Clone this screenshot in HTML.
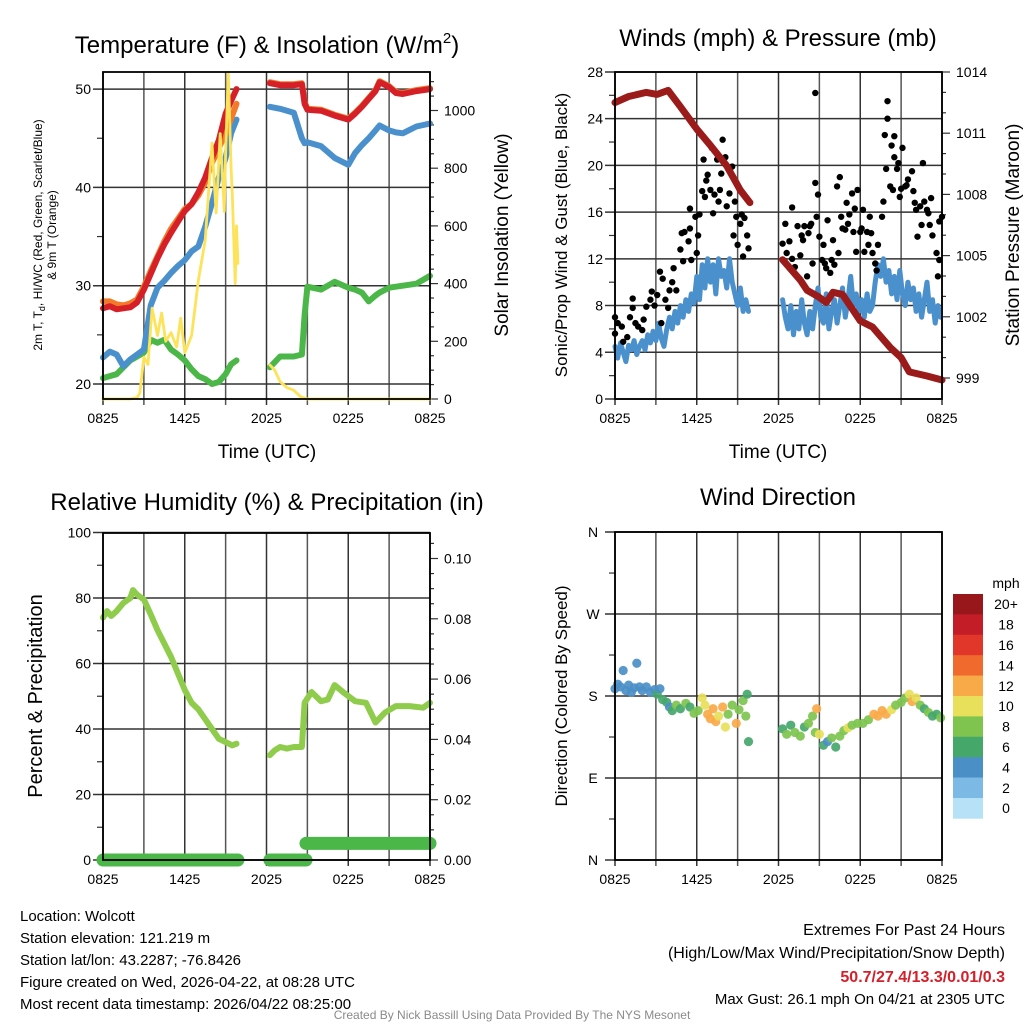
<!DOCTYPE html>
<html><head><meta charset="utf-8"><style>
html,body{margin:0;padding:0;background:#fff;}
svg{display:block;font-family:"Liberation Sans",sans-serif;}
</style></head><body>
<svg id="fig" width="1024" height="1024" viewBox="0 0 1024 1024">
<rect x="0" y="0" width="1024" height="1024" fill="#fff"/>
<g id="layer"></g>
<text x="267" y="53" font-size="24" text-anchor="middle">Temperature (F) &amp; Insolation (W/m<tspan font-size="15" dy="-10">2</tspan><tspan dy="10">)</tspan></text>
<text x="778" y="46" font-size="24" text-anchor="middle">Winds (mph) &amp; Pressure (mb)</text>
<text x="267" y="510" font-size="24" text-anchor="middle">Relative Humidity (%) &amp; Precipitation (in)</text>
<text x="778" y="505" font-size="24" text-anchor="middle">Wind Direction</text>
<text x="267" y="458" font-size="19" text-anchor="middle">Time (UTC)</text>
<text x="778" y="458" font-size="19" text-anchor="middle">Time (UTC)</text>
<text transform="translate(42,235) rotate(-90)" font-size="12" text-anchor="middle">2m T, T<tspan font-size="9" dy="3">d</tspan><tspan dy="-3">, HI/WC (Red, Green, Scarlet/Blue)</tspan></text>
<text transform="translate(56,235) rotate(-90)" font-size="12" text-anchor="middle">&amp; 9m T (Orange)</text>
<text transform="translate(508,235) rotate(-90)" font-size="19" text-anchor="middle">Solar Insolation (Yellow)</text>
<text transform="translate(567,235) rotate(-90)" font-size="17" text-anchor="middle">Sonic/Prop Wind &amp; Gust (Blue, Black)</text>
<text transform="translate(1019,235) rotate(-90)" font-size="19" text-anchor="middle">Station Pressure (Maroon)</text>
<text transform="translate(42,696) rotate(-90)" font-size="20" text-anchor="middle">Percent &amp; Precipitation</text>
<text transform="translate(567,696) rotate(-90)" font-size="17" text-anchor="middle">Direction (Colored By Speed)</text>
<text x="1006" y="588" font-size="14" text-anchor="middle">mph</text>
<g font-size="15">
<text x="20" y="921">Location: Wolcott</text>
<text x="20" y="943">Station elevation: 121.219 m</text>
<text x="20" y="965">Station lat/lon: 43.2287; -76.8426</text>
<text x="20" y="987">Figure created on Wed, 2026-04-22, at 08:28 UTC</text>
<text x="20" y="1009">Most recent data timestamp: 2026/04/22 08:25:00</text>
</g>
<g font-size="16" text-anchor="end">
<text x="1005" y="935">Extremes For Past 24 Hours</text>
<text x="1005" y="958">(High/Low/Max Wind/Precipitation/Snow Depth)</text>
<text x="1005" y="982" fill="#d3202a" font-weight="bold">50.7/27.4/13.3/0.01/0.3</text>
<text x="1005" y="1004" font-size="15">Max Gust: 26.1 mph On 04/21 at 2305 UTC</text>
</g>
<text x="512" y="1019" font-size="12" fill="#8a8a8a" text-anchor="middle">Created By Nick Bassill Using Data Provided By The NYS Mesonet</text>
</svg>
<script>
// ---------- data ----------
const xTickLabels = ["0825","1425","2025","0225","0825"];
const tTimes = [0,0.5,1,1.5,2,2.5,3,3.5,4,4.5,5,5.5,6,6.5,7,7.5,8,8.5,9,9.4,9.8,null,12.25,13,14,14.6,14.8,15,16,17,18,18.5,19,19.5,20,20.3,21,21.5,22,23,24];
const tempRed = [27.7,27.9,27.6,27.7,27.8,28.3,29.6,31.2,32.8,34.2,35.4,36.5,37.6,38.3,39.5,41.0,43.0,44.8,47.5,48.8,50.0,null,50.6,50.4,50.4,50.5,48.5,47.9,47.8,47.3,46.9,47.5,48.2,49.0,49.8,50.7,50.2,49.6,49.5,49.8,50.0];
const tempOrange = [28.4,28.4,28.1,28.0,28.2,28.6,29.9,31.5,33.0,34.5,35.8,36.8,37.8,38.3,39.2,40.5,42.5,44.0,45.5,47.0,48.5,null,50.7,50.5,50.5,50.6,48.7,48.0,47.9,47.4,47.0,47.6,48.3,49.1,49.9,50.8,50.3,49.7,49.6,49.9,50.1];
const tempBlue = [22.7,23.3,23.0,21.8,22.5,23.0,23.5,28.0,29.8,30.5,31.3,32.0,32.6,33.5,34.0,36.0,38.4,41.0,43.0,45.5,46.9,null,48.2,48.0,47.6,45.0,44.5,44.6,44.2,43.0,42.3,43.5,44.3,45.0,45.8,46.3,45.8,45.6,45.5,46.2,46.5];
const tempGreen = [20.6,20.8,21.0,21.7,22.4,22.8,23.2,24.5,24.2,24.5,23.5,23.0,22.4,21.5,20.8,20.5,20.0,20.2,21.0,22.0,22.4,null,21.7,22.8,22.8,23.0,27.0,29.9,29.6,30.4,29.8,29.6,29.3,28.4,29.0,29.3,29.8,29.9,30.0,30.2,31.0];
const sTimes = [0,2,2.5,2.7,3,3.3,3.6,4,4.3,4.6,5,5.4,5.7,6,6.5,7,7.5,8,8.3,8.6,8.9,9.0,9.2,9.4,9.5,9.7,9.8,9.9,null,12.25,12.6,13,13.5,14,14.5,15,24];
const solar = [0,0,5,20,145,120,315,220,298,200,230,180,280,160,220,412,550,887,645,920,650,850,1133,800,700,400,600,470,null,118,100,60,40,30,8,0,0];
const pTimes = [0,1,2.3,3.1,3.9,4.8,6,7,8.2,9.2,9.9,null,12.3,13.6,14.1,14.9,15.5,16.0,16.7,18.0,18.9,20.2,21.0,21.6,22.9,24];
const pressure = [1012.5,1012.8,1013.0,1012.9,1013.1,1012.3,1011.2,1010.4,1009.4,1008.2,1007.6,null,1004.8,1003.8,1003.3,1003.0,1002.7,1003.2,1003.1,1001.8,1001.5,1000.5,1000.0,999.3,999.1,998.9];
const windSeg1 = [4.5,3.5,4.8,4.0,3.2,4.6,4.2,5.0,3.8,4.5,5.0,4.2,5.5,4.8,5.8,5.0,6.5,5.2,4.5,6.0,7.0,6.0,7.5,6.5,8.0,7.0,8.5,7.5,9.0,8.2,10.5,8.5,11.5,9.5,12.0,10.0,11.5,9.0,12.0,10.5,11.0,9.5,12.0,10.0,9.0,8.0,9.5,7.5,8.5,7.5];
const windSeg2 = [8.5,7.0,6.0,8.0,5.5,7.5,6.0,8.5,6.5,5.5,7.5,6.0,8.0,9.5,7.0,6.5,9.0,6.0,7.5,8.5,6.5,8.0,9.5,7.0,8.5,10.5,8.0,9.0,7.5,8.5,7.0,9.0,7.5,8.0,10.0,11.5,10.5,12.0,10.0,11.0,9.0,10.5,8.5,11.0,9.0,8.0,10.0,8.5,9.5,7.5,9.0,7.0,8.5,10.0,7.5,8.5,6.5,8.0,7.0];
const gustTimes = [0,0,0.2,0.5,0.6,0.9,1.1,1.3,1.3,1.5,1.7,2.0,2.1,2.3,2.6,2.7,2.9,3.1,3.3,3.4,3.5,3.7,3.9,4.0,4.2,4.3,4.5,4.8,4.9,5.0,5.1,5.4,5.5,5.5,5.6,5.9,6.0,6.1,6.2,6.4,6.5,6.6,6.7,6.8,7.0,7.1,7.2,7.3,7.5,7.6,7.7,7.8,7.9,8.1,8.2,8.3,8.4,8.6,8.7,8.8,8.9,9.0,9.2,9.3,9.4,9.5,9.7,9.8,
12.3,12.5,12.6,12.8,13.0,13.0,13.2,13.4,13.6,13.7,13.8,13.9,14.1,14.2,14.3,14.4,14.5,14.7,14.8,14.9,14.7,15.0,15.2,15.3,15.4,15.5,15.6,15.8,15.9,16.0,16.1,16.3,16.4,16.5,16.6,16.7,16.9,17.0,17.1,17.2,17.4,17.5,17.6,17.7,17.8,18.0,18.1,18.2,18.3,18.5,18.6,18.7,18.8,18.9,19.1,19.2,19.3,19.6,19.7,19.8,19.9,20.0,20.0,20.2,20.3,20.4,20.5,20.5,20.7,20.8,20.9,21.0,21.1,21.3,21.4,21.5,21.8,21.9,22.0,22.1,22.2,22.4,22.5,22.6,22.7,22.9,23.0,23.1,23.2,23.3,23.6,23.7,23.8,24.0,23.8];
const gustVals = [7.0,5.6,6.5,6.2,4.9,5.3,7.0,7.8,8.6,6.5,6.2,5.9,6.8,7.9,8.5,9.2,8.0,8.9,10.9,6.5,10.3,8.5,7.8,9.3,10.0,11.2,9.3,12.8,14.2,11.8,14.3,13.5,16.3,14.6,11.9,15.6,12.5,14.0,15.8,17.8,20.5,17.3,18.7,19.2,17.9,21.5,15.9,17.5,20.5,16.9,17.9,19.3,22.2,20.7,16.5,19.7,17.6,19.9,14.0,16.9,15.6,13.2,15.0,15.8,12.2,15.5,14.0,12.9,
13.3,15.0,12.5,13.5,12.0,16.4,11.3,14.8,12.3,14.0,13.6,14.8,10.5,14.2,14.8,15.0,11.6,18.5,15.6,17.5,26.2,13.9,11.9,13.2,11.6,11.2,15.3,10.8,11.9,13.6,11.5,18.2,12.5,19.0,15.6,14.6,14.5,16.8,15.0,15.8,17.6,14.3,16.3,12.6,17.9,14.3,14.6,16.2,12.6,14.3,13.2,15.6,14.2,12.5,11.6,11.0,13.2,15.6,16.9,22.6,19.7,24.0,25.5,18.2,21.7,17.9,22.5,20.7,19.7,20.2,17.3,18.0,21.5,18.2,18.3,18.8,19.5,17.8,16.8,16.2,13.9,16.5,14.9,20.2,16.9,16.2,15.9,14.9,17.2,14.0,12.5,10.5,11.9,15.6,15.2];
const rTimes = [0,0.3,0.6,1,1.5,2,2.2,2.5,3,3.5,4,5,6,6.5,7,7.5,8,8.5,9,9.5,9.8,null,12.25,12.6,13,13.5,14,14.6,14.8,15.3,16,16.5,17,17.7,18.5,19.3,20,20.7,21.5,22.5,23.5,24];
const rhVals = [74,76,74.5,76,78.5,80,82.4,81,79.5,75,70.2,62,51.9,48,46,43,40,37,36,35,35.5,null,32,33.5,34.5,34,34.5,34.5,48,51.3,48.5,49,53.4,51,48.5,48,42,45,47,47,46.5,48];
const prTimes = [0,9.9,null,12.25,14.9,null,14.9,24];
const prVals = [0,0,null,0,0,null,0.0055,0.0055];
const dTimes = [0,0.2,0.4,0.6,0.8,1.0,1.2,1.4,1.6,1.8,2.0,2.3,2.6,2.9,3.1,3.3,3.5,3.8,4.0,4.2,4.5,4.8,5.2,5.5,5.8,6.1,6.4,6.6,6.8,7.0,7.2,7.4,7.6,7.9,8.1,8.3,8.6,8.9,9.1,9.4,9.6,9.8,9.7,
12.3,12.6,12.9,13.2,13.6,13.9,14.2,14.5,14.7,14.8,15.0,15.3,15.6,15.9,16.2,16.5,16.8,17.1,17.4,17.8,18.2,18.6,19.0,19.3,19.6,19.9,20.3,20.6,21.0,21.3,21.6,21.8,22.1,22.4,22.7,23.0,23.3,23.6,23.9];
const dDirs = [188,193,190,208,186,192,184,189,216,190,186,190,184,187,182,188,176,173,168,164,170,166,172,168,161,164,178,170,160,155,166,152,158,168,146,160,170,150,165,175,158,130,182,
144,138,148,140,136,146,150,158,140,166,138,126,130,134,124,136,142,145,148,150,150,154,160,158,164,160,165,170,173,178,182,174,178,170,166,162,158,160,156];
const dSpeeds = [5,5,4.5,5,5,5,4.5,5,5,5,5,5,5,5,7,5,6.5,7.5,5,7,9,6.5,8.5,7,9,8,11,10,12,12.5,12,13,11,12.5,11,9,9,12.5,8.5,9,8.5,7,7,
7,8.5,7,9,8,7,8.5,9,9,13,10,7,5,8,6.5,8,9,10.5,8.5,8.5,9,8.5,12,13,13,12.5,11,9,9,8.5,10,13,10,8,7,8,7.5,7,8];
const cbLabels = ["0","2","4","6","8","10","12","14","16","18","20+"];
const cbColors = ["#b7e1f7","#7cb9e4","#4b8fc7","#46a76b","#7ec44f","#e8e05a","#f8a948","#f16a2d","#e0372a","#c31e27","#98171b"];

// ---------- scales ----------
const NS = "http://www.w3.org/2000/svg";
const layer = document.getElementById('layer');
const L0=103, L1=430, R0=615, R1=942;
const xL = h => L0 + h*(L1-L0)/24;
const xR = h => R0 + h*(R1-R0)/24;
const yT = t => 384 - (t-20)*9.83;
const yS = w => 399 - w*0.2885;
const yW = v => 399 - v*11.68;
const yP = p => 72 + (1014-p)*20.4;
const yRH = r => 860 - r*3.275;
const yPr = p => 860 - p*3015;
const yD = d => 860 - d*0.911;

function mk(tag, attrs){
  const el = document.createElementNS(NS, tag);
  for (const k in attrs) el.setAttribute(k, attrs[k]);
  layer.appendChild(el);
  return el;
}
function ln(x1,y1,x2,y2,stroke,w,name){
  const el = mk('line',{x1:x1,y1:y1,x2:x2,y2:y2,stroke:stroke,'stroke-width':w});
  
  
  return el;
}
function txt(x,y,s,anchor,size,name){
  const el = mk('text',{x:x,y:y,'text-anchor':anchor,'font-size':size});
  el.textContent = s;
  
  
  return el;
}
function series(times, vals, xf, yf, color, w, name){
  let d = '', pen = false;
  for (let i=0;i<times.length;i++){
    if (times[i]===null || vals[i]===null){ pen=false; continue; }
    d += (pen?'L':'M') + xf(times[i]).toFixed(1) + ',' + yf(vals[i]).toFixed(1);
    pen = true;
  }
  const el = mk('path',{d:d,fill:'none',stroke:color,'stroke-width':w,'stroke-linejoin':'round','stroke-linecap':'round'});
  
  
  return el;
}
function xGrid(x0,x1,y0,y1,xf,name){
  for (let h=0; h<=24; h+=3){
    ln(xf(h), y0, xf(h), y1+6, (h%6===0)?'#333':'#555', 1.5, name+'-vgrid');
  }
  xTickLabels.forEach((s,i)=>{ txt(xf(i*6), y1+24, s, 'middle', 14, name+'-x-tick-label'); });
}
function frame(x0,y0,x1,y1,name){
  const el = mk('rect',{x:x0,y:y0,width:x1-x0,height:y1-y0,fill:'none',stroke:'#000','stroke-width':1.8});
  
  
}

// ---------- Panel 1: temperature ----------
xGrid(L0,L1,72,399,xL,'temp');
[20,30,40,50].forEach(t=>{ ln(L0-10,yT(t),L1,yT(t),'#333',1.5,'temp-hgrid'); txt(L0-12,yT(t)+5,String(t),'end',14,'temp-y-tick-label'); });
[25,35,45].forEach(t=>{ ln(L0-6,yT(t),L0,yT(t),'#333',1.2,'temp-minor-tick'); });
for (let w=0; w<=1100; w+=50){ const maj = w%200===0; ln(L1,yS(w),L1+(maj?8:4),yS(w),'#333',1.2,'solar-tick'); if(maj) txt(L1+14,yS(w)+5,String(w),'start',14,'solar-y-tick-label'); }
series(tTimes,tempGreen,xL,yT,'#4bb748',6,'dewpoint-line');
series(tTimes,tempBlue,xL,yT,'#4a90cc',6,'windchill-line');
series(tTimes,tempOrange,xL,yT,'#f37a2a',6,'temp-9m-line');
series(tTimes,tempRed,xL,yT,'#d62027',6,'temp-2m-line');
series(sTimes,solar,xL,yS,'#fde35a',2.8,'solar-line');
frame(L0,72,L1,399,'temp-plot-frame');

// ---------- Panel 2: winds ----------
xGrid(R0,R1,72,399,xR,'wind');
for (let v=0; v<=28; v+=4){ ln(R0-10,yW(v),R1,yW(v),'#333',1.5,'wind-hgrid'); txt(R0-12,yW(v)+5,String(v),'end',14,'wind-y-tick-label'); }
for (let v=2; v<28; v+=4){ ln(R0-6,yW(v),R0,yW(v),'#333',1.2,'wind-minor-tick'); }
for (let p=999; p<=1014; p+=1){ const maj=(p-999)%3===0; ln(R1,yP(p),R1+(maj?8:4),yP(p),'#333',1.2,'pressure-tick'); if(maj) txt(R1+14,yP(p)+5,String(p),'start',14,'pressure-y-tick-label'); }
series(windSeg1.map((v,i)=>i*0.2),windSeg1,xR,yW,'#4a90cc',5,'sonic-wind-line-1');
series(windSeg2.map((v,i)=>12.3+i*0.2),windSeg2,xR,yW,'#4a90cc',5,'sonic-wind-line-2');
gustTimes.forEach((t,i)=>{
  const c = mk('circle',{cx:xR(t),cy:yW(gustVals[i]),r:3.2,fill:'#000'});
  
  
});
series(pTimes,pressure,xR,yP,'#9b1b1b',7,'pressure-line');
frame(R0,72,R1,399,'wind-plot-frame');

// ---------- Panel 3: humidity ----------
xGrid(L0,L1,533,860,xL,'rh');
for (let r=0;r<=100;r+=20){ ln(L0-10,yRH(r),L1,yRH(r),'#333',1.5,'rh-hgrid'); txt(L0-12,yRH(r)+5,String(r),'end',14,'rh-y-tick-label'); }
for (let r=10;r<100;r+=20){ ln(L0-6,yRH(r),L0,yRH(r),'#333',1.2,'rh-minor-tick'); }
for (let k=0;k<=21;k++){ const p=k*0.005; const maj=k%4===0; ln(L1,yPr(p),L1+(maj?8:4),yPr(p),'#333',1.2,'precip-tick'); if(maj) txt(L1+14,yPr(p)+5,p.toFixed(2),'start',14,'precip-y-tick-label'); }
series(rTimes,rhVals,xL,yRH,'#8fcc4c',6,'rh-line');
series(prTimes,prVals,xL,yPr,'#4bb748',13,'precip-line');
frame(L0,533,L1,860,'rh-plot-frame');

// ---------- Panel 4: wind direction ----------
xGrid(R0,R1,532,860,xR,'dir');
const dirLabels = ["N","E","S","W","N"];
dirLabels.forEach((s,i)=>{ const d=i*90; ln(R0-10,yD(d),R1,yD(d),'#333',1.5,'dir-hgrid'); txt(R0-22,yD(d)+5,s,'middle',14,'dir-y-tick-label'); });
for (let d=45; d<360; d+=90){ ln(R0-6,yD(d),R0,yD(d),'#333',1.2,'dir-minor-tick'); }
function spdColor(v){ let i=Math.floor(v/2); if(i<0)i=0; if(i>10)i=10; return cbColors[i]; }
dTimes.forEach((t,i)=>{
  const c = mk('circle',{cx:xR(t),cy:yD(dDirs[i]),r:4.6,fill:spdColor(dSpeeds[i]),'fill-opacity':0.92});
  
  
});
frame(R0,532,R1,860,'dir-plot-frame');

// colorbar
const cbTop=594, cbH=20.4;
cbLabels.forEach((s,i)=>{
  const idx = 10-i;
  const r = mk('rect',{x:953,y:cbTop+i*cbH,width:30,height:cbH+0.3,fill:cbColors[idx]});
  
  
  txt(1006,cbTop+i*cbH+cbH/2+5,cbLabels[idx],'middle',14,'colorbar-label');
});
</script>
</body></html>
